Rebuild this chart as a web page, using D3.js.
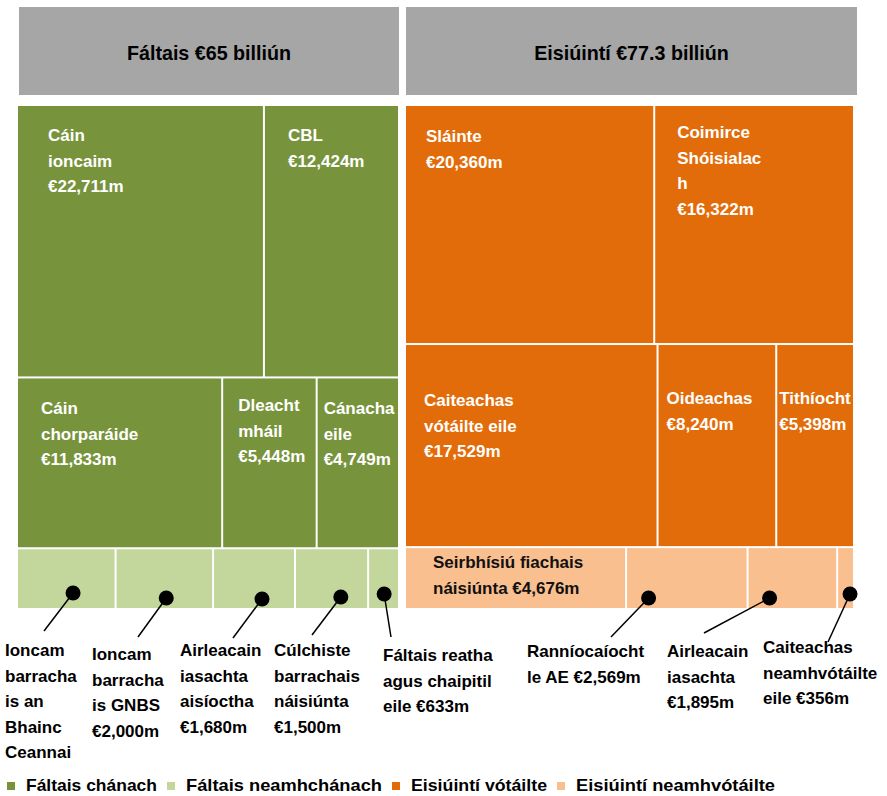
<!DOCTYPE html>
<html>
<head>
<meta charset="utf-8">
<script src="https://cdn.jsdelivr.net/npm/d3@7"></script>
<style>
  body { margin: 0; background: #fff; }
  text { font-family: "Liberation Sans", Arial, sans-serif; font-weight: bold; }
</style>
</head>
<body>
<svg id="chart" width="887" height="796"></svg>
<script>
// Fáltais (receipts), €m
var receiptNames = ["Cáin ioncaim", "CBL", "Cáin chorparáide", "Dleacht mháil", "Cánacha eile",
    "Ioncam barracha is an Bhainc Ceannai", "Ioncam barracha is GNBS", "Airleacain iasachta aisíoctha",
    "Cúlchiste barrachais náisiúnta", "Fáltais reatha agus chaipitil eile"];
var receiptValues = [22711, 12424, 11833, 5448, 4749, 2022, 2000, 1680, 1500, 633];
var receiptRows = [1, 1, 2, 2, 2, 3, 3, 3, 3, 3];
var receiptKind = [0, 0, 0, 0, 0, 1, 1, 1, 1, 1];   // 0 cánach, 1 neamhchánach
var receiptLabels = ["Cáin|ioncaim|{v}", "CBL|{v}", "Cáin|chorparáide|{v}", "Dleacht|mháil|{v}", "Cánacha|eile|{v}",
    "Ioncam|barracha|is an|Bhainc|Ceannai", "Ioncam|barracha|is GNBS|{v}", "Airleacain|iasachta|aisíoctha|{v}",
    "Cúlchiste|barrachais|náisiúnta|{v}", "Fáltais reatha|agus chaipitil|eile {v}"];

// Eisiúintí (expenditure), €m
var spendNames = ["Sláinte", "Coimirce Shóisialach", "Caiteachas vótáilte eile", "Oideachas", "Tithíocht",
    "Seirbhísiú fiachais náisiúnta", "Ranníocaíocht le AE", "Airleacain iasachta", "Caiteachas neamhvótáilte eile"];
var spendValues = [20360, 16322, 17529, 8240, 5398, 4676, 2569, 1895, 356];
var spendRows = [1, 1, 2, 2, 2, 3, 3, 3, 3];
var spendKind = [2, 2, 2, 2, 2, 3, 3, 3, 3];   // 2 vótáilte, 3 neamhvótáilte
var spendLabels = ["Sláinte|{v}", "Coimirce|Shóisialac|h|{v}", "Caiteachas|vótáilte eile|{v}", "Oideachas|{v}", "Tithíocht|{v}",
    "Seirbhísiú fiachais|náisiúnta {v}", "Ranníocaíocht|le AE {v}", "Airleacain|iasachta|{v}", "Caiteachas|neamhvótáilte|eile {v}"];

var legendLabels = ["Fáltais chánach", "Fáltais neamhchánach", "Eisiúintí vótáilte", "Eisiúintí neamhvótáilte"];
var kindColors = ["#77933c", "#c3d69b", "#e36c0a", "#f9bf8f"];
var kindText = ["#fff", "#111", "#fff", "#111"];

// label placement inside boxes (offset from box corner: dx, first baseline dy)
var labelPos = {
    "Cáin ioncaim": [30, 35], "CBL": [23, 35], "Cáin chorparáide": [23, 36], "Dleacht mháil": [15, 33],
    "Cánacha eile": [6, 36], "Sláinte": [20, 36], "Coimirce Shóisialach": [22, 32],
    "Caiteachas vótáilte eile": [18, 61], "Oideachas": [8, 59], "Tithíocht": [2, 59],
    "Seirbhísiú fiachais náisiúnta": [27, 20]
};

// callouts for the small boxes: dot at fraction fx of box width / y dy, line end, text start
var callouts = {
    "Ioncam barracha is an Bhainc Ceannai": {fx: 0.57, dy: 593, lx: 44, ly: 631, tx: 5, ty: 656},
    "Ioncam barracha is GNBS": {fx: 0.52, dy: 598, lx: 138, ly: 637, tx: 92, ty: 660},
    "Airleacain iasachta aisíoctha": {fx: 0.6, dy: 599, lx: 233, ly: 638, tx: 180, ty: 656},
    "Cúlchiste barrachais náisiúnta": {fx: 0.63, dy: 597, lx: 312, ly: 635, tx: 274, ty: 656},
    "Fáltais reatha agus chaipitil eile": {fx: 0.52, dy: 594, lx: 391, ly: 637, tx: 383, ty: 661},
    "Ranníocaíocht le AE": {fx: 0.18, dy: 598, lx: 611, ly: 637, tx: 527, ty: 657},
    "Airleacain iasachta": {fx: 0.24, dy: 598, lx: 704, ly: 633, tx: 667, ty: 657},
    "Caiteachas neamhvótáilte eile": {fx: 0.8, dy: 594, lx: 828, ly: 642, tx: 763, ty: 653}
};

// legend swatch x positions
var legendPos = [7, 167, 392, 557];

var lineH = 25.5,
    boxFont = "17px",
    mapTop = 106, mapBottom = 608;

var panels = [
    {title: "Fáltais", x0: 18, x1: 398, hx0: 19, hx1: 399,
     names: receiptNames, values: receiptValues, rows: receiptRows, kinds: receiptKind, labels: receiptLabels},
    {title: "Eisiúintí", x0: 406, x1: 853, hx0: 406, hx1: 857,
     names: spendNames, values: spendValues, rows: spendRows, kinds: spendKind, labels: spendLabels}
];

var svg = d3.select("#chart");
var money = function(v) { return "€" + d3.format(",")(v) + "m"; };
var billions = d3.format(".3~r");

function tile(node, x0, y0, x1, y1) {
    (node.depth === 0 ? d3.treemapSlice : d3.treemapDice)(node, x0, y0, x1, y1);
}

function writeLines(g, text, x, y, color) {
    var t = g.append("text")
        .attr("x", x).attr("y", y)
        .style("font-size", boxFont)
        .attr("fill", color);
    text.split("|").forEach(function(line, i) {
        t.append("tspan").attr("x", x).attr("y", y + i * lineH).text(line);
    });
}

panels.forEach(function(p) {
    var items = p.names.map(function(n, i) {
        return {name: n, value: p.values[i], row: p.rows[i], kind: p.kinds[i],
                label: p.labels[i].replace("{v}", money(p.values[i]))};
    });
    var total = d3.sum(p.values);
    var grouped = Array.from(d3.group(items, function(d) { return d.row; }).values());
    var root = d3.hierarchy({children: grouped.map(function(r) { return {children: r}; })})
        .sum(function(d) { return d.value || 0; });

    d3.treemap()
        .size([p.x1 - p.x0, mapBottom - mapTop])
        .tile(tile)
        .paddingInner(2)(root);

    // header
    svg.append("rect")
        .attr("x", p.hx0).attr("y", 7)
        .attr("width", p.hx1 - p.hx0).attr("height", 88)
        .attr("fill", "#a6a6a6");
    svg.append("text")
        .attr("x", (p.hx0 + p.hx1) / 2).attr("y", 60)
        .attr("text-anchor", "middle")
        .style("font-size", "19.7px")
        .attr("fill", "#000")
        .text(p.title + " €" + billions(total / 1000) + " billiún");

    var g = svg.append("g").attr("transform", "translate(" + p.x0 + "," + mapTop + ")");
    var leaves = g.selectAll("g.leaf")
        .data(root.leaves())
        .enter().append("g")
        .attr("class", "leaf");

    leaves.append("rect")
        .attr("x", function(d) { return d.x0; })
        .attr("y", function(d) { return d.y0; })
        .attr("width", function(d) { return d.x1 - d.x0; })
        .attr("height", function(d) { return d.y1 - d.y0; })
        .attr("fill", function(d) { return kindColors[d.data.kind]; });

    leaves.each(function(d) {
        var pos = labelPos[d.data.name];
        if (pos) {
            writeLines(d3.select(this), d.data.label, d.x0 + pos[0], d.y0 + pos[1], kindText[d.data.kind]);
        }
        var c = callouts[d.data.name];
        if (c) {
            var dx = p.x0 + d.x0 + c.fx * (d.x1 - d.x0);
            svg.append("line")
                .attr("x1", dx).attr("y1", c.dy)
                .attr("x2", c.lx).attr("y2", c.ly)
                .attr("stroke", "#000").attr("stroke-width", 1.5);
            svg.append("circle")
                .attr("cx", dx).attr("cy", c.dy).attr("r", 7.5)
                .attr("fill", "#000");
            writeLines(svg, d.data.label, c.tx, c.ty, "#000");
        }
    });
});

// legend
legendLabels.forEach(function(name, i) {
    var x = legendPos[i],
        next = i < legendPos.length - 1 ? legendPos[i + 1] - 10 : 775;
    svg.append("rect")
        .attr("x", x).attr("y", 782)
        .attr("width", 8).attr("height", 8)
        .attr("fill", kindColors[i]);
    svg.append("text")
        .attr("x", x + 19).attr("y", 791)
        .style("font-size", "16.5px")
        .attr("textLength", next - x - 19)
        .attr("lengthAdjust", "spacingAndGlyphs")
        .attr("fill", "#000")
        .text(name);
});
</script>
</body>
</html>
